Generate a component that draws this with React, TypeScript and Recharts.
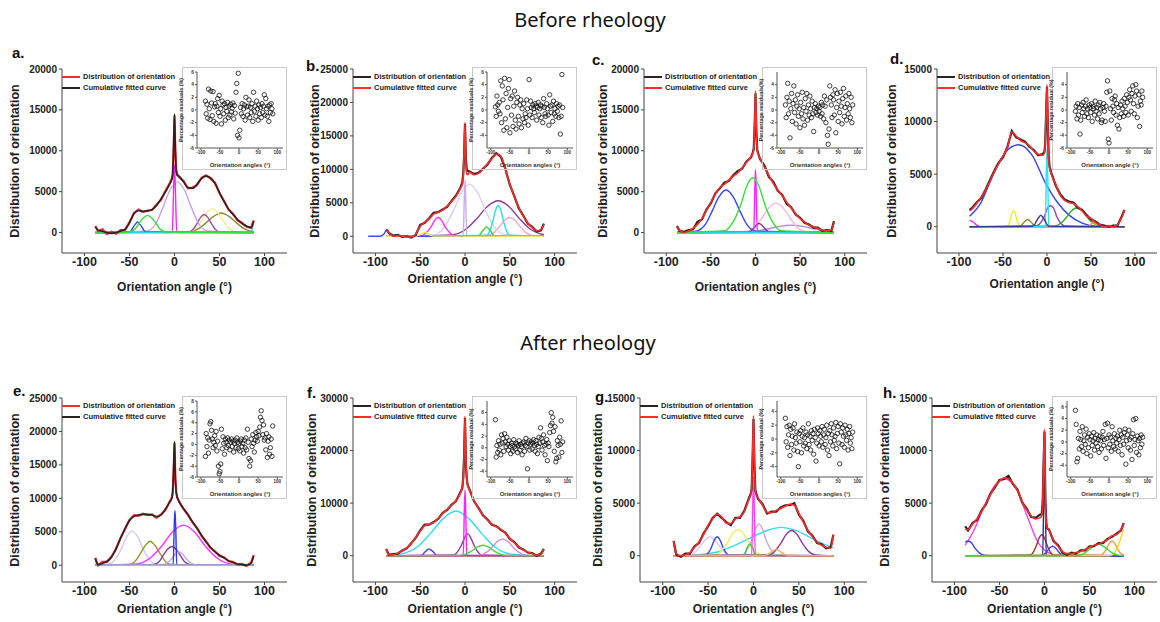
import { ComposedChart, Line, XAxis, YAxis, ScatterChart, Scatter } from "recharts";

const FONT = "'Liberation Sans', Arial, sans-serif";

// sampling grid of the orientation histograms (deg)
const GRID = [-88, -85, -80, -75, -70, -65, -60, -55, -50, -45, -40, -35, -30, -25, -20, -15, -10, -5, -3, -2, -1, 0, 1, 2, 3, 5, 10, 15, 20, 25, 30, 35, 40, 45, 50, 55, 60, 65, 70, 75, 80, 85, 88];

const X_TICKS = [-100, -50, 0, 50, 100];

// ---- a. ----
const A_MEAS = [800, 200, 400, -200, 100, -150, 300, 300, 1300, 2400, 2800, 2500, 2700, 2750, 3400, 4000, 5100, 6100, 6600, 7100, 10000, 14300, 9800, 7600, 7200, 6800, 6300, 5400, 5500, 5800, 6700, 7000, 6600, 6100, 4800, 3900, 2800, 2300, 1500, 1200, 700, 600, 1500];
const A_FIT = [700, 300, 150, 0, -100, 0, 200, 400, 1200, 2300, 2700, 2600, 2650, 2800, 3300, 4100, 5000, 6000, 6500, 7200, 10500, 14500, 10000, 7400, 7000, 6900, 6200, 5500, 5400, 5900, 6600, 6900, 6700, 6000, 4900, 3800, 2900, 2200, 1600, 1100, 800, 600, 1400];
const A_COMPS = [
  [[-88, 0], [16, 80], [27, 480], [35, 1180], [44, 2020], [52, 2400], [60, 2020], [69, 1180], [77, 480], [88, 80]],
  [[-88, 0], [16, 90], [24, 580], [30, 1420], [36, 2440], [42, 2900], [48, 2440], [54, 1420], [60, 580], [68, 90], [88, 0]],
  [[-88, 0], [16, 70], [21, 440], [25, 1080], [29, 1850], [33, 2200], [37, 1850], [41, 1080], [45, 440], [50, 70], [88, 0]],
  [[-88, 0], [-31, 190], [-20, 1230], [-13, 3020], [-5, 5200], [3, 6200], [11, 5200], [19, 3020], [26, 1230], [37, 190], [88, 0]],
  [[-88, 0], [-51, 40], [-48, 260], [-46, 640], [-43, 1090], [-41, 1300], [-39, 1090], [-36, 640], [-34, 260], [-31, 40], [88, 0]],
  [[-88, 0], [-2.5, 0], [-0.8, 6000], [0, 8300], [0.8, 6000], [2.5, 0], [88, 0]],
  [[-88, 0], [84, 0], [86, 300], [88, 1200]],
  [[-88, 0], [-51, 70], [-44, 420], [-40, 1030], [-35, 1760], [-30, 2100], [-25, 1760], [-20, 1030], [-16, 420], [-9, 70], [88, 0]],
];
const A_COLORS = ["#8e8a3a", "#f3ee8c", "#a44aa8", "#c9a3ea", "#2f3fe8", "#ff22ff", "#22d8e8", "#3ae03a"];
const A_RES = [1.4, -0.6, 0.9, -1.3, 3.3, 0.2, -1.5, 3.0, 1.1, -0.9, 2.9, -1.8, 0.5, 1.0, -2.1, 0.6, 1.8, -0.4, 2.3, -1.0, 0.2, -2.2, 1.4, 0.8, -0.6, 1.0, -1.6, 0.4, -0.2, 1.2, -1.2, 0.6, -0.8, 0.9, -0.3, 0.3, 1.1, -1.4, 0.7, -0.5, 2.8, 4.2, -4.0, 5.8, -4.4, -3.2, 0.4, -0.6, 1.0, -1.0, 0.2, 0.8, -1.6, 2.0, 0.5, -0.8, 0.6, 1.6, -1.2, 0.4, -0.4, 1.0, -1.8, 2.8, -0.2, 0.6, -1.0, 1.4, 0.2, -1.6, 0.8, -0.6, 0.4, -1.2, 1.0, -0.4, 0.6, 2.4, -0.8, 1.8, 0.2, -1.0, 0.6, -1.8, 0.8, -0.4, 1.0, 0.2, -0.6];

// ---- b. ----
const B_MEAS = [1000, 500, 100, 200, -100, 0, -200, 200, 1700, 2000, 2700, 3500, 3600, 4000, 4400, 5300, 6100, 7300, 8000, 9200, 12000, 16800, 11500, 9900, 9800, 9700, 9300, 9500, 10100, 10700, 11700, 12400, 11900, 10100, 7700, 6000, 4200, 3100, 1900, 1400, 700, 900, 1900];
const B_FIT = [900, 600, 0, 100, 0, -100, -100, 300, 1500, 2100, 2600, 3300, 3600, 3900, 4500, 5200, 6000, 7200, 7800, 9000, 12500, 17000, 11000, 9300, 9200, 9600, 9200, 9400, 10000, 10800, 11600, 12300, 12000, 10000, 7800, 5900, 4300, 3000, 2000, 1300, 800, 1000, 1800];
const B_COMPS = [
  [[-88, 0], [-15, 200], [1, 1050], [13, 2600], [25, 4450], [37, 5300], [49, 4450], [61, 2600], [73, 1050], [88, 220]],
  [[-88, 0], [24, 95], [32, 550], [38, 1370], [44, 2350], [50, 2800], [56, 2350], [62, 1370], [68, 550], [76, 95], [88, 0]],
  [[-88, 0], [-34, 250], [-22, 1560], [-13, 3800], [-4, 6550], [5, 7800], [14, 6550], [23, 3800], [32, 1560], [44, 250], [88, 0]],
  [[-88, 0], [24, 150], [28, 920], [31, 2240], [34, 3860], [37, 4600], [40, 3860], [43, 2240], [46, 920], [50, 150], [88, 0]],
  [[-88, 0], [14, 45], [17, 280], [19, 690], [22, 1180], [24, 1400], [26, 1180], [29, 690], [31, 280], [34, 45], [88, 0]],
  [[-88, 0], [-2, 0], [-0.7, 6000], [0, 8400], [0.7, 6000], [2, 0], [88, 0]],
  [[-88, 0], [-48, 90], [-43, 560], [-38, 1370], [-34, 2350], [-30, 2800], [-26, 2350], [-22, 1370], [-17, 560], [-12, 90], [88, 0]],
  [[-108, 0], [-95, 0], [-91, 250], [-87, 1000], [-84, 250], [-80, 0], [88, 0]],
  [[-88, 0], [-55, 20], [-52, 120], [-50, 290], [-47, 500], [-45, 600], [-43, 500], [-40, 290], [-38, 120], [-35, 20], [88, 0]],
];
const B_COLORS = ["#8a3596", "#f4a7cf", "#dccff0", "#22e0ee", "#33d633", "#c6b0e8", "#ff33ff", "#3a4ef0", "#eeea5a"];
const B_RES = [0.5, -1.0, 2.2, 0.8, -0.2, 1.2, -0.6, 4.6, -2.0, 3.8, 1.6, -3.2, 5.0, -1.4, 2.6, -2.8, 0.4, 3.4, 4.8, -3.6, 1.8, -0.8, 2.2, -2.6, 0.6, 3.0, -1.6, -3.0, 1.2, 2.0, -1.0, -2.2, 0.8, 1.6, -2.8, 0.2, -1.4, 1.0, -2.0, -0.6, -1.2, 1.6, 0.2, -2.4, 4.8, -0.8, 1.4, 0.4, -1.2, 0.8, 0.2, -0.4, 1.0, 0.6, -1.6, 0.4, 1.2, -0.8, 0.2, 0.8, -1.2, 0.6, -2.0, 1.8, 0.4, -0.6, -1.0, 1.0, 0.2, -0.8, -2.4, 2.4, 0.6, -0.4, 0.8, -1.8, 1.4, -0.6, 0.2, -1.0, 1.0, -0.2, 0.6, -1.2, 0.8, -3.8, -1.0, 5.6, 0.4];

// ---- c. ----
const C_MEAS = [800, 200, 100, 300, 400, 1300, 1600, 2800, 3600, 4800, 5400, 6100, 6300, 7000, 7500, 7800, 8700, 9200, 9800, 10200, 12800, 17000, 12300, 10100, 9700, 9000, 8200, 6800, 6200, 5100, 4600, 3500, 3100, 2200, 1800, 1200, 1000, 600, 600, 200, 300, 200, 1400];
const C_FIT = [700, 300, 0, 200, 500, 1000, 1700, 2700, 3700, 4700, 5500, 5900, 6400, 6900, 7300, 7900, 8600, 9300, 9700, 10300, 13000, 17300, 12500, 10000, 9600, 9100, 8000, 7000, 6000, 5200, 4500, 3700, 3000, 2300, 1700, 1300, 900, 700, 500, 300, 200, 300, 1300];
const C_COMPS = [
  [[-88, 0], [-17, 30], [0, 180], [14, 440], [27, 760], [40, 900], [53, 760], [66, 440], [80, 180], [88, 80]],
  [[-88, 0], [-11, 120], [0, 720], [7, 1750], [15, 3020], [23, 3600], [31, 3020], [39, 1750], [46, 720], [57, 120], [88, 0]],
  [[-88, 0], [-9, 40], [-5, 220], [-2, 540], [1, 920], [4, 1100], [7, 920], [10, 540], [13, 220], [17, 40], [88, 0]],
  [[-88, 0], [-67, 180], [-56, 1040], [-49, 2530], [-41, 4370], [-33, 5200], [-25, 4370], [-17, 2530], [-10, 1040], [1, 180], [88, 0]],
  [[-88, 0], [-2, 0], [-0.7, 5500], [0, 7700], [0.7, 5500], [2, 0], [88, 0]],
  [[-88, 600], [-85, 200], [-82, 0], [88, 0]],
  [[-88, 0], [84, 0], [86, 300], [88, 1200]],
  [[-88, 0], [-34, 230], [-25, 1340], [-17, 3260], [-10, 5630], [-3, 6700], [4, 5630], [11, 3260], [19, 1340], [28, 230], [88, 0]],
];
const C_COLORS = ["#b98ad8", "#f7b7da", "#8a2e8a", "#3346ee", "#ff22ff", "#8e8a3a", "#22d8e8", "#33e033"];
const C_RES = [0.8, -1.2, 2.0, 4.2, -0.6, 1.4, -4.4, 0.2, 2.6, -1.8, 1.0, 3.8, -0.4, 1.6, -2.2, 0.6, 2.4, -1.0, 0.2, -2.8, 1.2, -0.6, 2.8, -1.4, 0.4, -2.4, 1.8, -0.2, 2.6, -1.6, 0.8, -0.8, 2.2, 0.2, -1.2, 1.4, -0.6, -3.4, 0.4, 1.0, -0.4, 0.2, -0.8, 0.6, -0.2, 0.4, -1.0, 1.2, -0.6, 0.8, -1.4, 2.2, 0.6, -2.0, 1.6, -4.0, -5.4, -3.0, 3.8, 2.0, 0.8, -1.2, 2.4, 1.6, -0.8, 3.2, -3.6, 0.4, 2.6, -1.8, 1.4, -0.4, 2.8, 0.6, -2.2, 1.8, 3.4, -1.0, 0.4, 2.2, -1.6, 1.0, -0.6, 2.6, 0.2, -1.2, 2.0, -2.0, 0.8];

// ---- d. ----
const D_MEAS = [1600, 1800, 2300, 2700, 3500, 4400, 5300, 6100, 6600, 7600, 9100, 8500, 8300, 8100, 7600, 7300, 6800, 6900, 7100, 7900, 10800, 13300, 9300, 6600, 5700, 5100, 3900, 3100, 2600, 2400, 2300, 1800, 1600, 1100, 700, 500, 200, 100, 0, 100, 100, 1000, 1600];
const D_FIT = [1500, 1700, 2200, 2800, 3400, 4300, 5200, 6000, 6700, 7500, 9000, 8600, 8200, 8000, 7700, 7200, 6900, 6800, 7000, 8000, 11000, 13500, 9500, 6500, 5600, 5000, 4000, 3000, 2500, 2300, 2200, 1900, 1500, 1000, 800, 400, 200, 0, 100, 0, 200, 900, 1600];
const D_COMPS = [
  [[-88, 1000], [-75, 2300], [-63, 4600], [-47, 7100], [-32, 7800], [-17, 6800], [-2, 4200], [12, 2300], [25, 1100], [40, 350], [55, 80], [88, 0]],
  [[-88, 600], [-84, 450], [-80, 150], [-76, 0], [88, 0]],
  [[-88, 0], [-46, 50], [-43, 300], [-41.5, 730], [-40, 1260], [-38, 1500], [-36, 1260], [-34.5, 730], [-33, 300], [-30, 50], [88, 0]],
  [[-88, 0], [-32, 25], [-29, 140], [-27, 340], [-24, 590], [-22, 700], [-20, 590], [-17, 340], [-15, 140], [-12, 25], [88, 0]],
  [[-88, 0], [-12, 70], [-7, 400], [-3, 970], [0, 1680], [4, 2000], [8, 1680], [11, 970], [15, 400], [20, 70], [88, 0]],
  [[-88, 0], [8, 60], [16, 360], [22, 880], [28, 1510], [34, 1800], [40, 1510], [46, 880], [52, 360], [60, 60], [88, 0]],
  [[-88, 0], [48, 0], [50, 250], [52, 500], [54, 250], [56, 0], [88, 0]],
  [[-88, 0], [-2, 0], [-0.7, 5400], [0, 7500], [0.7, 5400], [2, 0], [88, 0]],
  [[-88, 0], [-17, 35], [-14, 220], [-12, 540], [-9, 920], [-7, 1100], [-5, 920], [-2, 540], [0, 220], [3, 35], [88, 0]],
];
const D_COLORS = ["#3346ee", "#ff22ff", "#eeee22", "#8e8a2a", "#a040b0", "#2faa2f", "#ffa020", "#22e8f0", "#3a3a8e"];
const D_RES = [-0.2, 0.6, -1.4, 1.0, -0.8, 0.4, -3.8, -1.6, 0.8, -0.4, 1.2, 0.2, -1.0, 0.6, 1.6, -0.6, 0.2, -1.2, 0.8, 0.4, -0.4, 1.0, -1.8, 0.6, 0.2, -0.8, 1.4, -0.2, 0.4, -1.4, 0.8, -0.6, 1.2, 0.2, -2.0, -1.6, 0.4, 1.0, -0.2, -1.8, 0.6, 2.8, 4.6, -4.6, -5.2, 3.0, 0.2, -1.6, 1.8, 0.6, -0.4, 1.6, 2.2, -0.8, 1.0, -2.4, 0.4, -3.0, -1.2, 0.8, -0.6, 1.4, 0.2, -1.0, 1.8, 0.6, -0.4, 2.4, 1.2, -0.8, 2.0, 3.2, 1.6, -0.2, 2.6, 3.8, 1.0, -0.6, 2.2, 4.0, 3.0, -1.2, 0.6, 2.4, -2.6, 1.4, 0.8, 3.0, 2.0];

// ---- e. ----
const E_MEAS = [1100, 0, 500, 500, 1300, 2400, 4100, 5400, 6800, 7500, 7400, 7700, 7500, 7600, 7100, 7600, 8300, 9600, 10100, 10800, 14000, 18300, 12800, 10900, 10100, 9600, 8400, 7600, 6400, 5600, 4400, 3600, 2600, 2100, 1400, 1200, 600, 500, 100, 200, -100, 400, 1500];
const E_FIT = [1000, 100, 300, 600, 1200, 2500, 4000, 5500, 6700, 7300, 7500, 7600, 7600, 7500, 7300, 7500, 8400, 9500, 10000, 11000, 14500, 18500, 13000, 10800, 10200, 9500, 8500, 7500, 6500, 5500, 4500, 3500, 2700, 2000, 1500, 1100, 700, 400, 200, 100, 0, 300, 1400];
const E_COMPS = [
  [[-88, 0], [-73, 170], [-65, 1020], [-59, 2480], [-53, 4280], [-47, 5100], [-41, 4280], [-35, 2480], [-29, 1020], [-21, 170], [88, 0]],
  [[-88, 0], [-50, 120], [-43, 720], [-38, 1750], [-32, 3020], [-27, 3600], [-22, 3020], [-16, 1750], [-11, 720], [-4, 120], [88, 0]],
  [[-88, 0], [-42, 200], [-26, 1200], [-14, 2900], [-2, 5000], [10, 6000], [22, 5000], [34, 2900], [46, 1200], [62, 200], [88, 0]],
  [[-88, 0], [-24, 90], [-17, 560], [-13, 1360], [-8, 2350], [-3, 2800], [2, 2350], [7, 1360], [11, 560], [18, 90], [88, 0]],
  [[-88, 0], [-13, 70], [-8, 400], [-3, 970], [1, 1680], [5, 2000], [9, 1680], [13, 970], [18, 400], [23, 70], [88, 0]],
  [[-88, 0], [-1.5, 0], [-0.3, 6000], [0.5, 8200], [1.3, 6000], [2.5, 0], [88, 0]],
  [[-88, 1100], [-86, 0], [88, 0]],
  [[-88, 0], [84, 0], [86, 300], [88, 1400]],
];
const E_COLORS = ["#d8c9f0", "#9a9a30", "#ff33ff", "#8a3a9a", "#c9a6e6", "#2a3af0", "#22d8e8", "#ff8ccc"];
const E_RES = [-2.2, 2.0, -0.4, 1.2, -1.6, 0.8, 3.8, 4.2, 2.6, 1.0, -0.6, 0.4, 1.6, -0.2, 2.4, -1.2, 0.6, -4.0, -5.4, -5.0, -3.6, 2.8, -0.8, 1.4, 0.2, -1.8, 1.0, 0.4, -0.6, 1.2, -0.2, 0.8, -1.0, 0.4, 1.0, -0.4, 0.6, -1.4, 0.2, 0.8, -0.6, 1.2, 0.4, -0.8, 0.2, -1.2, 0.6, 1.0, -0.4, 0.2, -1.6, 0.8, -0.6, 1.2, -1.0, 2.8, 0.4, -2.6, -4.0, -3.0, 1.0, -0.4, 1.8, 0.2, -1.4, 0.8, 2.2, 1.4, 0.6, 2.4, 1.6, 3.2, 5.0, 6.2, 4.4, 1.8, 3.6, 0.8, 1.2, -1.0, 2.0, -2.4, 0.6, 1.4, -1.8, -0.6, 1.0, -2.2, 3.4];

// ---- f. ----
const F_MEAS = [1300, 200, 300, 400, 1000, 1400, 2400, 3400, 4800, 5900, 5900, 6400, 7000, 8100, 8700, 9700, 10400, 12100, 12900, 14700, 19000, 26200, 17500, 14700, 13400, 12600, 10400, 9100, 7700, 6900, 5900, 5600, 4900, 4400, 3200, 2600, 1600, 1200, 600, 500, 0, 400, 1300];
const F_FIT = [1200, 300, 200, 500, 900, 1500, 2300, 3500, 4700, 5700, 6000, 6300, 7100, 8000, 8800, 9600, 10500, 12000, 13000, 14500, 19500, 26500, 18000, 14500, 13500, 12500, 10500, 9000, 7800, 6800, 6000, 5500, 5000, 4300, 3300, 2500, 1700, 1100, 700, 400, 100, 300, 1200];
const F_COMPS = [
  [[-88, 0], [-72, 300], [-53, 1700], [-39, 4150], [-24, 7100], [-10, 8500], [4, 7100], [19, 4150], [33, 1700], [52, 300], [88, 0]],
  [[-88, 0], [-50, 40], [-47, 260], [-45, 640], [-42, 1100], [-40, 1300], [-38, 1100], [-35, 640], [-33, 260], [-30, 40], [88, 0]],
  [[-88, 0], [-13, 140], [-8, 830], [-4, 2040], [0, 3530], [3, 4200], [6, 3530], [10, 2040], [14, 830], [19, 140], [88, 0]],
  [[-88, 0], [16, 110], [24, 640], [30, 1560], [36, 2690], [42, 3200], [48, 2690], [54, 1560], [60, 640], [68, 110], [88, 0]],
  [[-88, 0], [-2, 0], [-0.7, 9000], [0, 12500], [0.7, 9000], [2, 0], [88, 0]],
  [[-88, 1200], [-86, 300], [-84, 0], [88, 0]],
  [[-88, 0], [-6, 70], [2, 400], [8, 970], [14, 1680], [20, 2000], [26, 1680], [32, 970], [38, 400], [46, 70], [88, 0]],
];
const F_COLORS = ["#33dcee", "#3a4af0", "#8e3a9e", "#d98ae2", "#ff22ff", "#9a6a2a", "#44dd44"];
const F_RES = [4.8, -1.6, 0.4, -0.8, 1.2, -0.4, 0.6, -1.2, 2.2, 0.8, 1.6, -0.6, 2.4, 1.0, 0.2, 1.8, 0.6, -0.4, 1.2, 0.2, -1.0, 0.8, 0.4, -0.6, 1.4, 0.2, -0.2, 0.8, 0.6, -0.8, 0.4, 1.2, -0.4, 0.6, 0.2, -1.2, 0.8, 1.0, -0.6, 0.4, 1.6, 0.2, -3.6, 0.8, 1.2, -0.4, 0.6, 1.0, -0.2, 0.8, 1.4, 0.4, -0.6, 1.2, 0.6, -1.0, 0.2, 1.8, 0.8, 3.4, 1.6, -0.4, 1.0, 2.2, 0.4, -1.2, 0.6, 1.4, -2.2, 0.8, 0.2, 2.6, 3.8, 6.0, 4.2, 5.2, 2.8, -0.6, 3.6, -2.4, -1.8, 1.2, 0.4, -1.6, 1.8, 0.6, 4.6, -0.8, 1.0];

// ---- g. ----
const G_MEAS = [1400, 100, -100, 200, 200, 900, 1200, 2100, 2800, 3600, 4000, 3600, 3200, 2900, 3600, 3600, 4300, 5500, 5900, 6400, 9200, 13000, 8800, 6300, 5900, 5400, 4900, 4000, 4200, 4200, 4600, 4800, 4800, 5000, 3900, 3300, 2300, 1900, 1200, 1100, 700, 800, 2000];
const G_FIT = [1400, 200, 0, 100, 300, 800, 1300, 2000, 2900, 3500, 3950, 3700, 3100, 3050, 3500, 3700, 4200, 5400, 5800, 6500, 9500, 13300, 9000, 6200, 5800, 5500, 4800, 4100, 4100, 4300, 4500, 4700, 4900, 4800, 4000, 3200, 2400, 1800, 1300, 1000, 800, 700, 2000];
const G_COMPS = [
  [[-88, 0], [-60, 100], [-40, 350], [-20, 1000], [0, 1850], [15, 2400], [30, 2700], [45, 2450], [60, 1850], [75, 1200], [88, 750]],
  [[-88, 0], [-71, 60], [-64, 360], [-59, 880], [-53, 1510], [-48, 1800], [-43, 1510], [-37, 880], [-32, 360], [-25, 60], [88, 0]],
  [[-88, 0], [-53, 60], [-49, 360], [-46, 880], [-43, 1510], [-40, 1800], [-37, 1510], [-34, 880], [-31, 360], [-27, 60], [88, 0]],
  [[-88, 0], [-43, 85], [-35, 500], [-29, 1220], [-23, 2100], [-17, 2500], [-11, 2100], [-5, 1220], [1, 500], [9, 85], [88, 0]],
  [[-88, 0], [-12, 100], [-7, 600], [-2, 1460], [2, 2520], [6, 3000], [10, 2520], [14, 1460], [19, 600], [24, 100], [88, 0]],
  [[-88, 0], [16, 80], [24, 480], [30, 1170], [36, 2020], [42, 2400], [48, 2020], [54, 1170], [60, 480], [68, 80], [88, 0]],
  [[-88, 0], [-12, 35], [-9, 220], [-8, 540], [-6, 920], [-4, 1100], [-2, 920], [0, 540], [1, 220], [4, 35], [88, 0]],
  [[-88, 0], [-2, 0], [-0.7, 5400], [0, 7500], [0.7, 5400], [2, 0], [88, 0]],
  [[-88, 1400], [-86, 300], [-84, 0], [88, 0]],
  [[-88, 0], [12, 20], [16, 120], [19, 290], [22, 500], [25, 600], [28, 500], [31, 290], [34, 120], [38, 20], [88, 0]],
];
const G_COLORS = ["#33dcee", "#d8c9f0", "#3346ee", "#f0ee66", "#c9a6e6", "#8e3a9e", "#33cc33", "#ff44ff", "#8e8a2a", "#ffaa55"];
const G_RES = [3.0, -0.4, 1.8, -1.2, 0.6, 2.0, -2.4, 1.4, -0.8, 0.4, 1.6, -1.6, 2.2, 0.2, -0.6, 1.0, -1.8, -4.0, 0.8, -0.4, 1.2, -2.0, 0.4, 1.6, -1.0, 0.2, -0.6, 1.0, -1.4, 0.6, 2.2, -0.8, 0.4, -1.6, 1.2, -0.2, 0.8, -2.2, 1.4, 0.2, -3.2, -0.6, 1.6, 0.8, -1.0, 1.2, 0.4, -0.4, 1.8, -1.2, 0.6, 1.4, -0.8, 0.2, 2.0, -1.6, 0.8, -2.4, 1.2, -0.4, 2.2, 0.6, -1.0, 1.6, -0.2, 0.4, 2.4, -1.4, 0.8, 1.8, -0.6, -3.6, 2.2, 1.0, -0.8, 1.6, 0.4, -1.2, 2.0, 0.6, -0.2, 1.4, -1.6, 0.8, 1.8, -0.6, 0.2, -1.4, 1.0];

// ---- h. ----
const H_MEAS = [2800, 2400, 3100, 3400, 4300, 4900, 5900, 6500, 7200, 7300, 7600, 6800, 6300, 5100, 4500, 3700, 3600, 3900, 4000, 5200, 8800, 11800, 5300, 3100, 2600, 2500, 1400, 1000, 300, 100, 300, 200, 500, 500, 900, 900, 1200, 1200, 1600, 1800, 2100, 2400, 3100];
const H_FIT = [2500, 2500, 3000, 3500, 4200, 5000, 5800, 6600, 7100, 7400, 7300, 6900, 6200, 5200, 4400, 3800, 3500, 3600, 3800, 5000, 9000, 12000, 5500, 3000, 2700, 2400, 1500, 900, 400, 200, 200, 300, 400, 600, 800, 1000, 1100, 1300, 1500, 1900, 2000, 2500, 3000];
const H_COMPS = [
  [[-88, 1000], [-79, 2300], [-67, 4700], [-55, 6700], [-43, 7300], [-31, 6300], [-19, 3700], [-8, 1400], [3, 350], [15, 50], [88, 0]],
  [[-88, 1300], [-85, 1400], [-81, 1200], [-77, 700], [-72, 250], [-67, 40], [-60, 0], [88, 0]],
  [[-88, 0], [-16, 70], [-12, 400], [-9, 970], [-6, 1680], [-3, 2000], [0, 1680], [3, 970], [6, 400], [10, 70], [88, 0]],
  [[-88, 0], [-2, 0], [-0.7, 6500], [0, 9000], [0.7, 6500], [2, 0], [88, 0]],
  [[-88, 0], [-4, 30], [0, 180], [3, 440], [6, 750], [9, 900], [12, 750], [15, 440], [18, 180], [22, 30], [88, 0]],
  [[-88, 0], [62, 45], [66, 280], [69, 680], [72, 1180], [75, 1400], [78, 1180], [81, 680], [84, 280], [88, 45]],
  [[-88, 0], [72, 0], [76, 100], [80, 600], [84, 1500], [88, 2500]],
  [[-88, 0], [37, 35], [44, 220], [49, 540], [55, 920], [60, 1100], [65, 920], [71, 540], [76, 220], [83, 35], [88, 0]],
];
const H_COLORS = ["#ee44ee", "#3346ee", "#a0302a", "#2a2a8a", "#3a4af0", "#ff9933", "#eedd22", "#33dd33"];
const H_RES = [5.4, 3.0, -3.4, -2.8, 0.6, -1.2, 1.8, 0.4, -0.8, 2.6, -1.6, 0.2, 1.2, -0.4, 2.2, -2.0, 0.8, -1.0, 1.4, 0.4, -2.4, 1.0, -0.6, 0.2, 1.6, -1.4, 0.6, -0.2, 1.2, -0.8, 0.4, -1.8, 1.0, 0.2, -1.2, 0.8, 1.8, -0.6, 0.4, 3.0, -2.8, 0.6, 3.2, -1.0, 1.2, -0.4, 0.8, -1.6, 2.6, 0.2, -0.8, 1.4, -1.2, 0.6, -0.2, 1.0, -1.6, 0.4, 2.0, -0.6, 1.2, -2.2, 0.8, -0.4, 1.6, 2.2, -3.8, 0.2, 1.2, -1.0, 2.0, 0.4, -1.4, 0.8, -3.0, 1.4, 3.8, -0.6, 0.4, 4.0, -1.8, 1.0, 0.2, -2.2, 0.6, -1.0, 1.2, -0.4, 0.8];

const RED = "#ff2a2a";
const BLACK = "#2b2222";

type PanelCfg = {
  letter: string; left: number; top: number; h: number; lx: number; ly: number;
  yw: number; ytX: number; xtOff: number;
  yDomain: number[]; yTicks: number[];
  meas: number[]; fit: number[]; measColor: string; fitColor: string;
  comps: number[][][]; colors: string[];
  xTitle: string; res: number[]; resDomain: number[]; resTicks: number[];
  insetX: string; insetY: string;
};

const PANELS: PanelCfg[] = [
  { letter: "a.", left: 0, top: 40, h: 260, lx: 12, ly: 5, yw: 62, ytX: 15, xtOff: 9, yDomain: [-2500, 20000], yTicks: [0, 5000, 10000, 15000, 20000],
    meas: A_MEAS, fit: A_FIT, measColor: RED, fitColor: BLACK, comps: A_COMPS, colors: A_COLORS, xTitle: "Orientation angle (°)",
    res: A_RES, resDomain: [-6, 6], resTicks: [-6, -4, -2, 0, 2, 4, 6], insetX: "Orientation angles (°)", insetY: "Percentage residuals (%)" },
  { letter: "b.", left: 290, top: 40, h: 260, lx: 16, ly: 18, yw: 63, ytX: 25, xtOff: 17, yDomain: [-2500, 25000], yTicks: [0, 5000, 10000, 15000, 20000, 25000],
    meas: B_MEAS, fit: B_FIT, measColor: BLACK, fitColor: RED, comps: B_COMPS, colors: B_COLORS, xTitle: "Orientation angle (°)",
    res: B_RES, resDomain: [-6, 6], resTicks: [-4, -2, 0, 2, 4, 6], insetX: "Orientation angles (°)", insetY: "Percentage residuals (%)" },
  { letter: "c.", left: 580, top: 40, h: 260, lx: 12, ly: 12, yw: 64, ytX: 23, xtOff: 9, yDomain: [-2500, 20000], yTicks: [0, 5000, 10000, 15000, 20000],
    meas: C_MEAS, fit: C_FIT, measColor: BLACK, fitColor: RED, comps: C_COMPS, colors: C_COLORS, xTitle: "Orientation angles (°)",
    res: C_RES, resDomain: [-6, 6], resTicks: [-6, -4, -2, 0, 2, 4], insetX: "Orientation angles (°)", insetY: "Percentage residuals(%)" },
  { letter: "d.", left: 870, top: 40, h: 260, lx: 20, ly: 11, yw: 67, ytX: 22, xtOff: 12, yDomain: [-2500, 15000], yTicks: [0, 5000, 10000, 15000],
    meas: D_MEAS, fit: D_FIT, measColor: BLACK, fitColor: RED, comps: D_COMPS, colors: D_COLORS, xTitle: "Orientation angle (°)",
    res: D_RES, resDomain: [-6, 6], resTicks: [-6, -4, -2, 0, 2, 4], insetX: "Orientation angle (°)", insetY: "Percentage residual (%)" },
  { letter: "e.", left: 0, top: 369, h: 250, lx: 13, ly: 14, yw: 62, ytX: 15, xtOff: 6, yDomain: [-2500, 25000], yTicks: [0, 5000, 10000, 15000, 20000, 25000],
    meas: E_MEAS, fit: E_FIT, measColor: RED, fitColor: BLACK, comps: E_COMPS, colors: E_COLORS, xTitle: "Orientation angle (°)",
    res: E_RES, resDomain: [-6, 8], resTicks: [-6, -4, -2, 0, 2, 4, 6, 8], insetX: "Orientation angles (°)", insetY: "Percentage residuals (%)" },
  { letter: "f.", left: 290, top: 369, h: 250, lx: 17, ly: 16, yw: 63, ytX: 22, xtOff: 6, yDomain: [-5000, 30000], yTicks: [0, 10000, 20000, 30000],
    meas: F_MEAS, fit: F_FIT, measColor: BLACK, fitColor: RED, comps: F_COMPS, colors: F_COLORS, xTitle: "Orientation angle (°)",
    res: F_RES, resDomain: [-5, 8], resTicks: [-4, -2, 0, 2, 4, 6], insetX: "Orientation angles (°)", insetY: "Percentage residual (%)" },
  { letter: "g.", left: 580, top: 369, h: 250, lx: 15, ly: 20, yw: 60, ytX: 18, xtOff: 6, yDomain: [-2500, 15000], yTicks: [0, 5000, 10000, 15000],
    meas: G_MEAS, fit: G_FIT, measColor: BLACK, fitColor: RED, comps: G_COMPS, colors: G_COLORS, xTitle: "Orientation angles (°)",
    res: G_RES, resDomain: [-5.5, 5.5], resTicks: [-4, -2, 0, 2, 4], insetX: "Orientation angles (°)", insetY: "Percentage residual (%)" },
  { letter: "h.", left: 870, top: 369, h: 250, lx: 13, ly: 16, yw: 62, ytX: 15, xtOff: 6, yDomain: [-2500, 15000], yTicks: [0, 5000, 10000, 15000],
    meas: H_MEAS, fit: H_FIT, measColor: BLACK, fitColor: RED, comps: H_COMPS, colors: H_COLORS, xTitle: "Orientation angle (°)",
    res: H_RES, resDomain: [-6, 7], resTicks: [-4, -2, 0, 2, 4, 6], insetX: "Orientation angle (°)", insetY: "Percentage residuals (%)" },
];

const toRows = (ys: number[]) => GRID.map((a, i) => ({ x: a, y: ys[i] }));
const toPts = (pts: number[][]) => pts.map(([x, y]) => ({ x, y }));
const toRes = (rs: number[]) => rs.map((y, i) => ({ x: -88 + 2 * i, y }));

// open circle marker, as in the Origin residual plots
const ResidualDot = (props: any) => (
  <circle cx={props.cx} cy={props.cy} r={2.2} fill="none" stroke="#111" strokeWidth={0.8} />
);

const Inset = ({ p }: { p: PanelCfg }) => (
  <>
    <div style={{ position: "absolute", left: 182, top: 27, width: 105, height: 103, border: "1px solid #c9c9c9", boxSizing: "border-box" }} />
    <div style={{ position: "absolute", left: 168, top: 28 }}>
      <ScatterChart width={118} height={100} margin={{ top: 4, right: 3, bottom: 0, left: 0 }} style={{ fontFamily: FONT }}>
        <XAxis dataKey="x" type="number" domain={[-110, 115]} ticks={X_TICKS} height={20} tickSize={2} tickMargin={1} stroke="#555"
          tick={{ fontSize: 4.6, fontWeight: 700, fill: "#333" }}
          label={{ value: p.insetX, position: "insideBottom", offset: 1, style: { fontSize: 6, fontWeight: 700, fill: "#333" } }} />
        <YAxis dataKey="y" type="number" domain={p.resDomain} ticks={p.resTicks} width={29} tickSize={2} tickMargin={1} stroke="#555"
          tick={{ fontSize: 4.8, fontWeight: 700, fill: "#333" }}
          label={{ value: p.insetY, angle: -90, position: "insideLeft", offset: 13, textAnchor: "middle", style: { textAnchor: "middle", fontSize: 5.4, fontWeight: 700, fill: "#333", fontFamily: FONT } }} />
        <XAxis xAxisId="top" orientation="top" type="number" domain={[0, 1]} height={0} tick={false} tickLine={false} stroke="#555" />
        <YAxis yAxisId="r" orientation="right" type="number" domain={[0, 1]} width={0} tick={false} tickLine={false} stroke="#555" />
        <Scatter data={toRes(p.res)} shape={ResidualDot} isAnimationActive={false} />
      </ScatterChart>
    </div>
  </>
);

const Panel = ({ p }: { p: PanelCfg }) => (
  <div style={{ position: "absolute", left: p.left, top: p.top, width: 290, height: p.h }}>
    <ComposedChart width={290} height={p.h} margin={{ top: 29, right: 3, bottom: 0, left: 0 }} style={{ fontFamily: FONT }}>
      <XAxis dataKey="x" type="number" domain={[-125, 125]} ticks={X_TICKS} allowDataOverflow height={p.h - 213} tickSize={3} tickMargin={1} stroke="#444"
        tick={{ fontSize: 12.5, fontWeight: 700, fill: "#222" }}
        label={{ value: p.xTitle, position: "insideBottom", offset: p.xtOff, style: { fontSize: 12, fontWeight: 700, fill: "#222" } }} />
      <YAxis type="number" domain={p.yDomain} ticks={p.yTicks} allowDataOverflow width={p.yw} tickSize={3} tickMargin={2} stroke="#444"
        tick={{ fontSize: 10, fontWeight: 700, fill: "#222" }}
        label={{ value: "Distribution of orientation", angle: -90, position: "insideLeft", offset: p.ytX, textAnchor: "middle", style: { textAnchor: "middle", fontSize: 12.5, fontWeight: 700, fill: "#222" } }} />
      <XAxis xAxisId="top" orientation="top" type="number" domain={[0, 1]} height={0} tick={false} tickLine={false} stroke="#444" />
      <YAxis yAxisId="r" orientation="right" type="number" domain={[0, 1]} width={0} tick={false} tickLine={false} stroke="#444" />
      {p.comps.map((c, i) => (
        <Line key={i} data={toPts(c)} dataKey="y" type="monotone" stroke={p.colors[i]} strokeWidth={1.4} dot={false} activeDot={false} isAnimationActive={false} />
      ))}
      <Line data={toRows(p.meas)} dataKey="y" name="Distribution of orientation" type="linear" stroke={p.measColor} strokeWidth={2.2} dot={false} activeDot={false} isAnimationActive={false} />
      <Line data={toRows(p.fit)} dataKey="y" name="Cumulative fitted curve" type="monotone" stroke={p.fitColor} strokeWidth={1.6} dot={false} activeDot={false} isAnimationActive={false} />
    </ComposedChart>
    <div style={{ position: "absolute", left: p.yw, top: 31, fontSize: 7.5, fontWeight: 700, lineHeight: "11px", color: "#222", whiteSpace: "nowrap" }}>
      {[["Distribution of orientation", p.measColor], ["Cumulative fitted curve", p.fitColor]].map(([name, color]) => (
        <div key={name} style={{ display: "flex", alignItems: "center" }}>
          <span style={{ display: "inline-block", width: 18, height: 2, background: color, marginRight: 3 }} />
          {name}
        </div>
      ))}
    </div>
    <Inset p={p} />
    <div style={{ position: "absolute", left: p.lx, top: p.ly, fontSize: 15, fontWeight: 700, lineHeight: "15px", color: "#111" }}>{p.letter}</div>
  </div>
);

export default function App() {
  return (
    <div style={{ position: "fixed", left: 0, top: 0, width: 1160, height: 622, background: "#fff", overflow: "hidden", fontFamily: FONT }}>
      <div style={{ position: "absolute", left: 440, top: 10, width: 300, textAlign: "center", fontFamily: "'Noto Sans', sans-serif", fontSize: 20, lineHeight: "20px", color: "#111" }}>Before rheology</div>
      <div style={{ position: "absolute", left: 438, top: 333, width: 300, textAlign: "center", fontFamily: "'Noto Sans', sans-serif", fontSize: 20, lineHeight: "20px", color: "#111" }}>After rheology</div>
      {PANELS.map((p) => <Panel key={p.letter} p={p} />)}
    </div>
  );
}
